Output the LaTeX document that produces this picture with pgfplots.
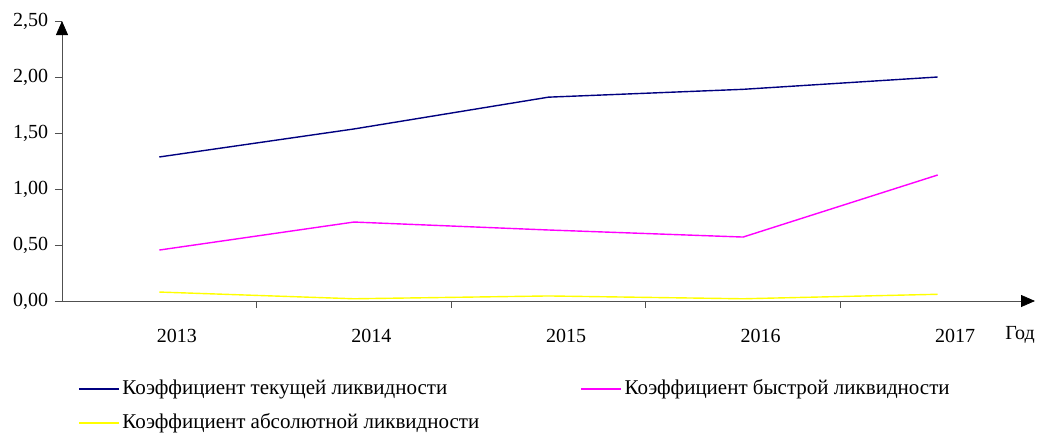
\documentclass[border=0pt]{standalone}
\usepackage{pgfplots}
\pgfplotsset{compat=1.18}
\usepackage{fontspec}
\setmainfont{Liberation Serif}
\usetikzlibrary{arrows.meta}
\definecolor{cur}{RGB}{0,0,128}
\definecolor{quick}{RGB}{255,0,255}
\definecolor{absl}{RGB}{255,255,0}
\definecolor{axgray}{RGB}{80,80,80}
\begin{document}
\fontsize{20}{24}\selectfont
\begin{tikzpicture}
\path[use as bounding box] (-62pt,-133pt) rectangle (978pt,301pt);
\begin{axis}[
  at={(0,0)}, anchor=south west,
  scale only axis, width=973pt, height=280pt,
  xmin=-0.5, xmax=4.5, ymin=0, ymax=2.5,
  axis lines=left,
  axis line style={axgray, line width=0.8pt, -{Triangle[length=14pt,width=12pt,fill=black,color=black]}},
  clip=false,
  ytick={0,0.5,1,1.5,2,2.5},
  yticklabel style={/pgf/number format/.cd, fixed, fixed zerofill, precision=2, use comma, assume math mode=true},
  xtick={0.5,1.5,2.5,3.5},
  xticklabels={},
  tick style={axgray, line width=0.8pt},
  major tick length=7pt,
  tick align=outside,
  extra x ticks={0.09,1.09,2.09,3.09,4.09},
  extra x tick labels={2013,2014,2015,2016,2017},
  extra x tick style={major tick length=0pt, tick label style={yshift=-21pt}},
  ticklabel style={font=\fontsize{20}{24}\selectfont},
  legend columns=2,
  legend cell align=left,
  legend style={draw=none, fill=none, at={(axis description cs:0.0164,-0.274)}, anchor=north west,
    font=\fontsize{21}{25}\selectfont, row sep=12pt, inner xsep=0pt, inner ysep=0pt,
    nodes={inner xsep=3pt}},
  legend image code/.code={\draw[#1, line width=1.2pt] (0pt,0pt) -- (40pt,0pt);},
  every axis plot/.append style={line width=1.4pt},
]
\addplot[cur] coordinates {(0,1.286) (1,1.536) (2,1.82) (3,1.89) (4,2.0)};
\addlegendentry{\makebox[455pt][l]{Коэффициент текущей ликвидности}}
\addplot[quick] coordinates {(0,0.455) (1,0.705) (2,0.634) (3,0.571) (4,1.125)};
\addlegendentry{Коэффициент быстрой ликвидности}
\addplot[absl] coordinates {(0,0.08) (1,0.02) (2,0.045) (3,0.02) (4,0.06)};
\addlegendentry{\makebox[455pt][l]{Коэффициент абсолютной ликвидности}}
\node[font=\fontsize{20}{24}\selectfont] at (axis cs:4.423,0) [yshift=-34pt] {Год};
\end{axis}
\end{tikzpicture}
\end{document}
